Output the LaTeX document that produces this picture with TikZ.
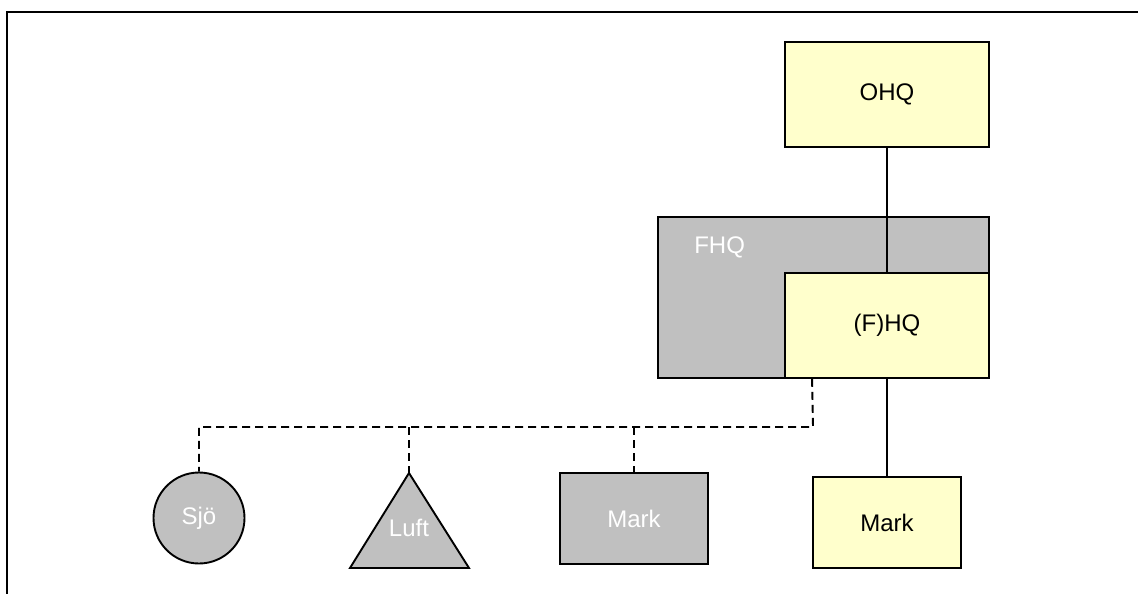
\documentclass[tikz,border=0pt]{standalone}
\usepackage{fontspec}
\setmainfont{Liberation Sans}
\usetikzlibrary{calc, positioning}
\definecolor{paleyellow}{HTML}{FFFFCC}
\definecolor{midgray}{HTML}{C0C0C0}
\tikzstyle{Box}=[rectangle, draw, fill=paleyellow, text=black, inner sep=0pt]
\tikzstyle{GrayBox}=[Box, fill=midgray, text=white]
\tikzstyle{DashLine}=[dash pattern=on 8pt off 5pt]

\begin{document}
\begin{tikzpicture}[x=1pt, y=-1pt, line width=1.9pt, font=\fontsize{24}{28}\selectfont]
		\useasboundingbox (0,0) rectangle (1138,594);
		\draw[line width=2.6pt] (7,596) -- (7,12) -- (1140,12);
		\node[Box, minimum width=204, minimum height=105] (ohq) at (887,94.5) {OHQ};
		\node[GrayBox, minimum width=331, minimum height=161] (fhq) at (823.5,297.5) {};
		\node[text=white, anchor=west] (fhqtext) at (690,247) {FHQ};
		\node[Box, minimum width=204, minimum height=105] (hq) at (887,325.5) {(F)HQ};
		\node[Box, minimum width=148, minimum height=91] (marky) at (887,522.5) {Mark};
		\node[GrayBox, minimum width=148, minimum height=91] (markg) at (634,518.5) {Mark};
		\node[GrayBox, circle, minimum size=91] (sjo) at (199,518) {Sjö};
		% triangle for Luft
		\coordinate (apex) at (409,473);
		\filldraw[fill=midgray] (apex) -- (350,568) -- (469,568) -- cycle;
		\node[text=white] (luft) at (409,528) {Luft};
		\path (ohq) edge (hq) (hq) edge (marky);
		\coordinate (bus) at (813,427);
		\draw[DashLine] ([xshift=28pt]hq.south west) -- (bus) -| (sjo.north);
		\draw[DashLine] (bus -| apex) -- (apex);
		\draw[DashLine] (bus -| markg.north) -- (markg.north);
\end{tikzpicture}
\end{document}
